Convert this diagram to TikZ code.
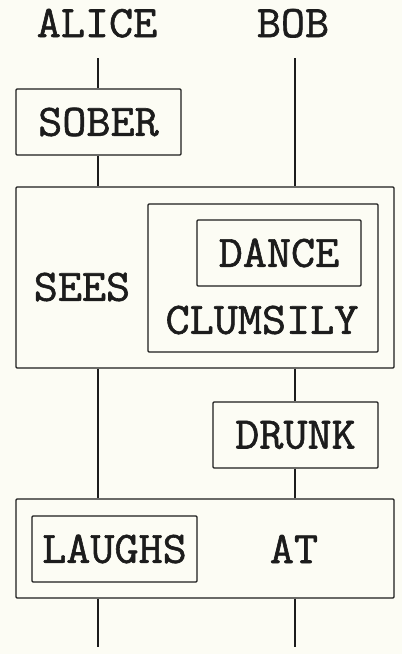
\documentclass[tikz,border=0pt]{standalone}
\usepackage{fontspec}
\usepackage{tikz}
\usetikzlibrary{positioning,calc}
\newfontfamily\heavytt[FakeBold=1.3,FakeStretch=1.04]{Latin Modern Mono}
\definecolor{paper}{HTML}{FCFCF4}
\definecolor{ink}{HTML}{1C1C1C}

\tikzset{
  wire/.style={ink,line width=1.3pt},
  proc/.style={draw=ink,line width=1.3pt,rounded corners=1pt,inner sep=0pt},
  word/.style={text=ink,inner sep=0pt,font=\fontsize{45}{50}\selectfont\heavytt}
}

\begin{document}
\begin{tikzpicture}[x=1pt,y=-1pt]
        \fill[paper] (0,0) rectangle (402,654);
        \useasboundingbox (0,0) rectangle (402,654);
        \node[word,anchor=base] (alice) at (97,37){ALICE};
        \node[word,anchor=base] (bob) at (293,37){BOB};
        \coordinate (atop) at (98,58);
        \coordinate (btop) at (295,58);
        \coordinate (aend) at (98,647);
        \coordinate (bend) at (295,647);
        \node[proc,word,minimum width=165pt,minimum height=66pt] (sober) at (98.5,122){SOBER};
        \node[proc,minimum width=378pt,minimum height=181pt] (sees) at (205,277.5){};
        \node[word] (seestxt) at (82,287){SEES};
        \node[proc,minimum width=230pt,minimum height=148pt] (clumsy) at (263,278){};
        \node[proc,word,minimum width=164pt,minimum height=66pt] (dance) at (279,253){DANCE};
        \node[word] (clumsytxt) at (262,320){CLUMSILY};
        \node[proc,word,minimum width=165pt,minimum height=66pt] (drunk) at (295.5,435){DRUNK};
        \node[proc,minimum width=378pt,minimum height=99pt] (at) at (205,548.5){};
        \node[proc,word,minimum width=165pt,minimum height=66pt] (laughs) at (114.5,549){LAUGHS};
        \node[word] (attxt) at (294,549){AT};
        % alice
        \draw[wire] (atop) -- (atop |- sober.north);
        \draw[wire] (atop |- sober.south) -- (atop |- sees.north);
        \draw[wire] (atop |- sees.south) -- (atop |- at.north);
        \draw[wire] (atop |- at.south) -- (aend);
        % bob
        \draw[wire] (btop) -- (btop |- sees.north);
        \draw[wire] (btop |- sees.south) -- (btop |- drunk.north);
        \draw[wire] (btop |- drunk.south) -- (btop |- at.north);
        \draw[wire] (btop |- at.south) -- (bend);
      \end{tikzpicture}
\end{document}
